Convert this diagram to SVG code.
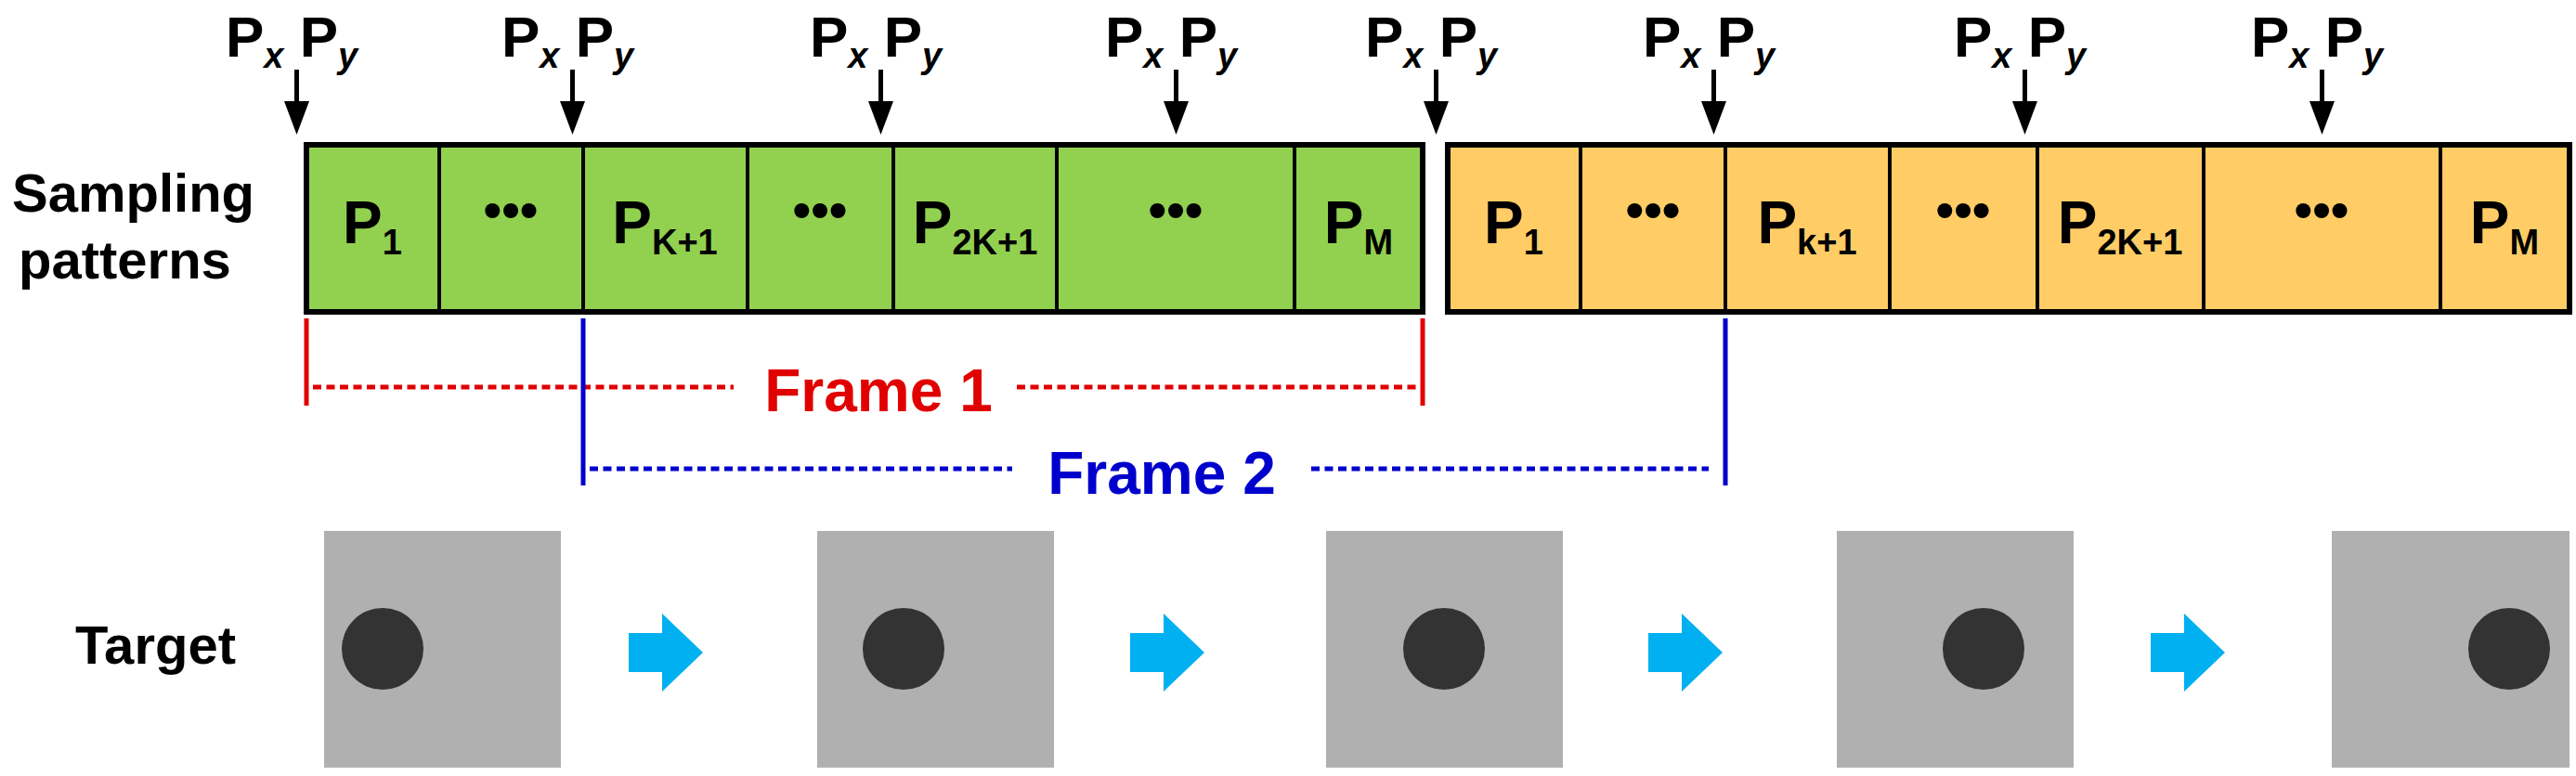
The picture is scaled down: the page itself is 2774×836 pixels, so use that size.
<svg xmlns="http://www.w3.org/2000/svg" width="2774" height="836" viewBox="0 0 2774 836">
<style>
text{font-family:"Liberation Sans",Arial,sans-serif;font-weight:bold}
.lbl{font-size:58px;fill:#000}
.pp{font-size:62px;fill:#000}
.cell{font-size:64px;fill:#000;text-anchor:middle}
.sub{font-size:38px}
.dots{font-size:56px;text-anchor:middle}
.div{stroke:#000;stroke-width:4}
.box{stroke:#000;stroke-width:6}
.ar{stroke:#000;stroke-width:5;fill:none}
.gray{fill:#B0B0B0}
.ball{fill:#333}
</style>
<defs>
<marker id="ah" markerWidth="6" markerHeight="8" refX="5" refY="4" orient="auto" markerUnits="strokeWidth"><path d="M0,0 L6,4 L0,8 Z" fill="#000"/></marker>
<g id="pxpy"><text class="pp" x="-76" y="61">P<tspan class="sub" font-style="italic" dy="12">x</tspan><tspan dy="-12"> P</tspan><tspan class="sub" font-style="italic" dy="12">y</tspan></text></g>
<path id="barrow" d="M0,-21 L36,-21 L36,-42 L80,0 L36,42 L36,21 L0,21 Z" fill="#00B0F0"/>
</defs>
<g id="labels">
<text class="lbl" x="13" y="228">Sampling</text>
<text class="lbl" x="20" y="300">patterns</text>
<text class="lbl" x="81" y="715">Target</text>
</g>
<g id="green-bar">
<rect class="box" x="330" y="156" width="1202" height="180" fill="#92D050"/>
<line class="div" x1="473" y1="156" x2="473" y2="336"/>
<line class="div" x1="628" y1="156" x2="628" y2="336"/>
<line class="div" x1="805" y1="156" x2="805" y2="336"/>
<line class="div" x1="962" y1="156" x2="962" y2="336"/>
<line class="div" x1="1138" y1="156" x2="1138" y2="336"/>
<line class="div" x1="1394" y1="156" x2="1394" y2="336"/>
<text class="cell" x="401" y="262">P<tspan class="sub" dy="12">1</tspan></text>
<text class="dots" x="550" y="245">•••</text>
<text class="cell" x="716" y="262">P<tspan class="sub" dy="12">K+1</tspan></text>
<text class="dots" x="883" y="245">•••</text>
<text class="cell" x="1050" y="262">P<tspan class="sub" dy="12">2K+1</tspan></text>
<text class="dots" x="1266" y="245">•••</text>
<text class="cell" x="1463" y="262">P<tspan class="sub" dy="12">M</tspan></text>
</g>
<g id="orange-bar">
<rect class="box" x="1559" y="156" width="1208" height="180" fill="#FFCC66"/>
<line class="div" x1="1702" y1="156" x2="1702" y2="336"/>
<line class="div" x1="1858" y1="156" x2="1858" y2="336"/>
<line class="div" x1="2035" y1="156" x2="2035" y2="336"/>
<line class="div" x1="2194" y1="156" x2="2194" y2="336"/>
<line class="div" x1="2373" y1="156" x2="2373" y2="336"/>
<line class="div" x1="2628" y1="156" x2="2628" y2="336"/>
<text class="cell" x="1630" y="262">P<tspan class="sub" dy="12">1</tspan></text>
<text class="dots" x="1780" y="245">•••</text>
<text class="cell" x="1946" y="262">P<tspan class="sub" dy="12">k+1</tspan></text>
<text class="dots" x="2114" y="245">•••</text>
<text class="cell" x="2283" y="262">P<tspan class="sub" dy="12">2K+1</tspan></text>
<text class="dots" x="2500" y="245">•••</text>
<text class="cell" x="2697" y="262">P<tspan class="sub" dy="12">M</tspan></text>
</g>
<g id="sample-arrows">
<use href="#pxpy" x="319"/><use href="#pxpy" x="616"/><use href="#pxpy" x="948"/><use href="#pxpy" x="1266"/>
<use href="#pxpy" x="1546"/><use href="#pxpy" x="1845"/><use href="#pxpy" x="2180"/><use href="#pxpy" x="2500"/>
</g>
<g id="connectors">
<g fill="#000">
<path d="M317,75h5v34h11l-13.5,36l-13.5,-36h11z"/>
<path d="M614,75h5v34h11l-13.5,36l-13.5,-36h11z"/>
<path d="M946,75h5v34h11l-13.5,36l-13.5,-36h11z"/>
<path d="M1264,75h5v34h11l-13.5,36l-13.5,-36h11z"/>
<path d="M1544,75h5v34h11l-13.5,36l-13.5,-36h11z"/>
<path d="M1843,75h5v34h11l-13.5,36l-13.5,-36h11z"/>
<path d="M2178,75h5v34h11l-13.5,36l-13.5,-36h11z"/>
<path d="M2498,75h5v34h11l-13.5,36l-13.5,-36h11z"/>
</g>
<g stroke="#E00000" stroke-width="5" fill="none">
<line x1="330" y1="343" x2="330" y2="437"/>
<line x1="1532" y1="343" x2="1532" y2="437"/>
<line x1="337" y1="417" x2="790" y2="417" stroke-dasharray="9 5.5"/>
<line x1="1095" y1="417" x2="1525" y2="417" stroke-dasharray="9 5.5"/>
</g>
<text x="946" y="443" font-size="64" fill="#E00000" text-anchor="middle">Frame 1</text>
<g stroke="#0000CC" stroke-width="5" fill="none">
<line x1="628" y1="343" x2="628" y2="523"/>
<line x1="1858" y1="343" x2="1858" y2="523"/>
<line x1="635" y1="505" x2="1090" y2="505" stroke-dasharray="9 5.5"/>
<line x1="1412" y1="505" x2="1840" y2="505" stroke-dasharray="9 5.5"/>
</g>
<text x="1251" y="532" font-size="64" fill="#0000CC" text-anchor="middle">Frame 2</text>
<use href="#barrow" x="677" y="703"/>
<use href="#barrow" x="1217" y="703"/>
<use href="#barrow" x="1775" y="703"/>
<use href="#barrow" x="2316" y="703"/>
</g>
<g id="target1"><rect class="gray" x="349" y="572" width="255" height="255"/><circle class="ball" cx="412" cy="699" r="44"/></g>
<g id="target2"><rect class="gray" x="880" y="572" width="255" height="255"/><circle class="ball" cx="973" cy="699" r="44"/></g>
<g id="target3"><rect class="gray" x="1428" y="572" width="255" height="255"/><circle class="ball" cx="1555" cy="699" r="44"/></g>
<g id="target4"><rect class="gray" x="1978" y="572" width="255" height="255"/><circle class="ball" cx="2136" cy="699" r="44"/></g>
<g id="target5"><rect class="gray" x="2511" y="572" width="256" height="255"/><circle class="ball" cx="2702" cy="699" r="44"/></g>
</svg>
